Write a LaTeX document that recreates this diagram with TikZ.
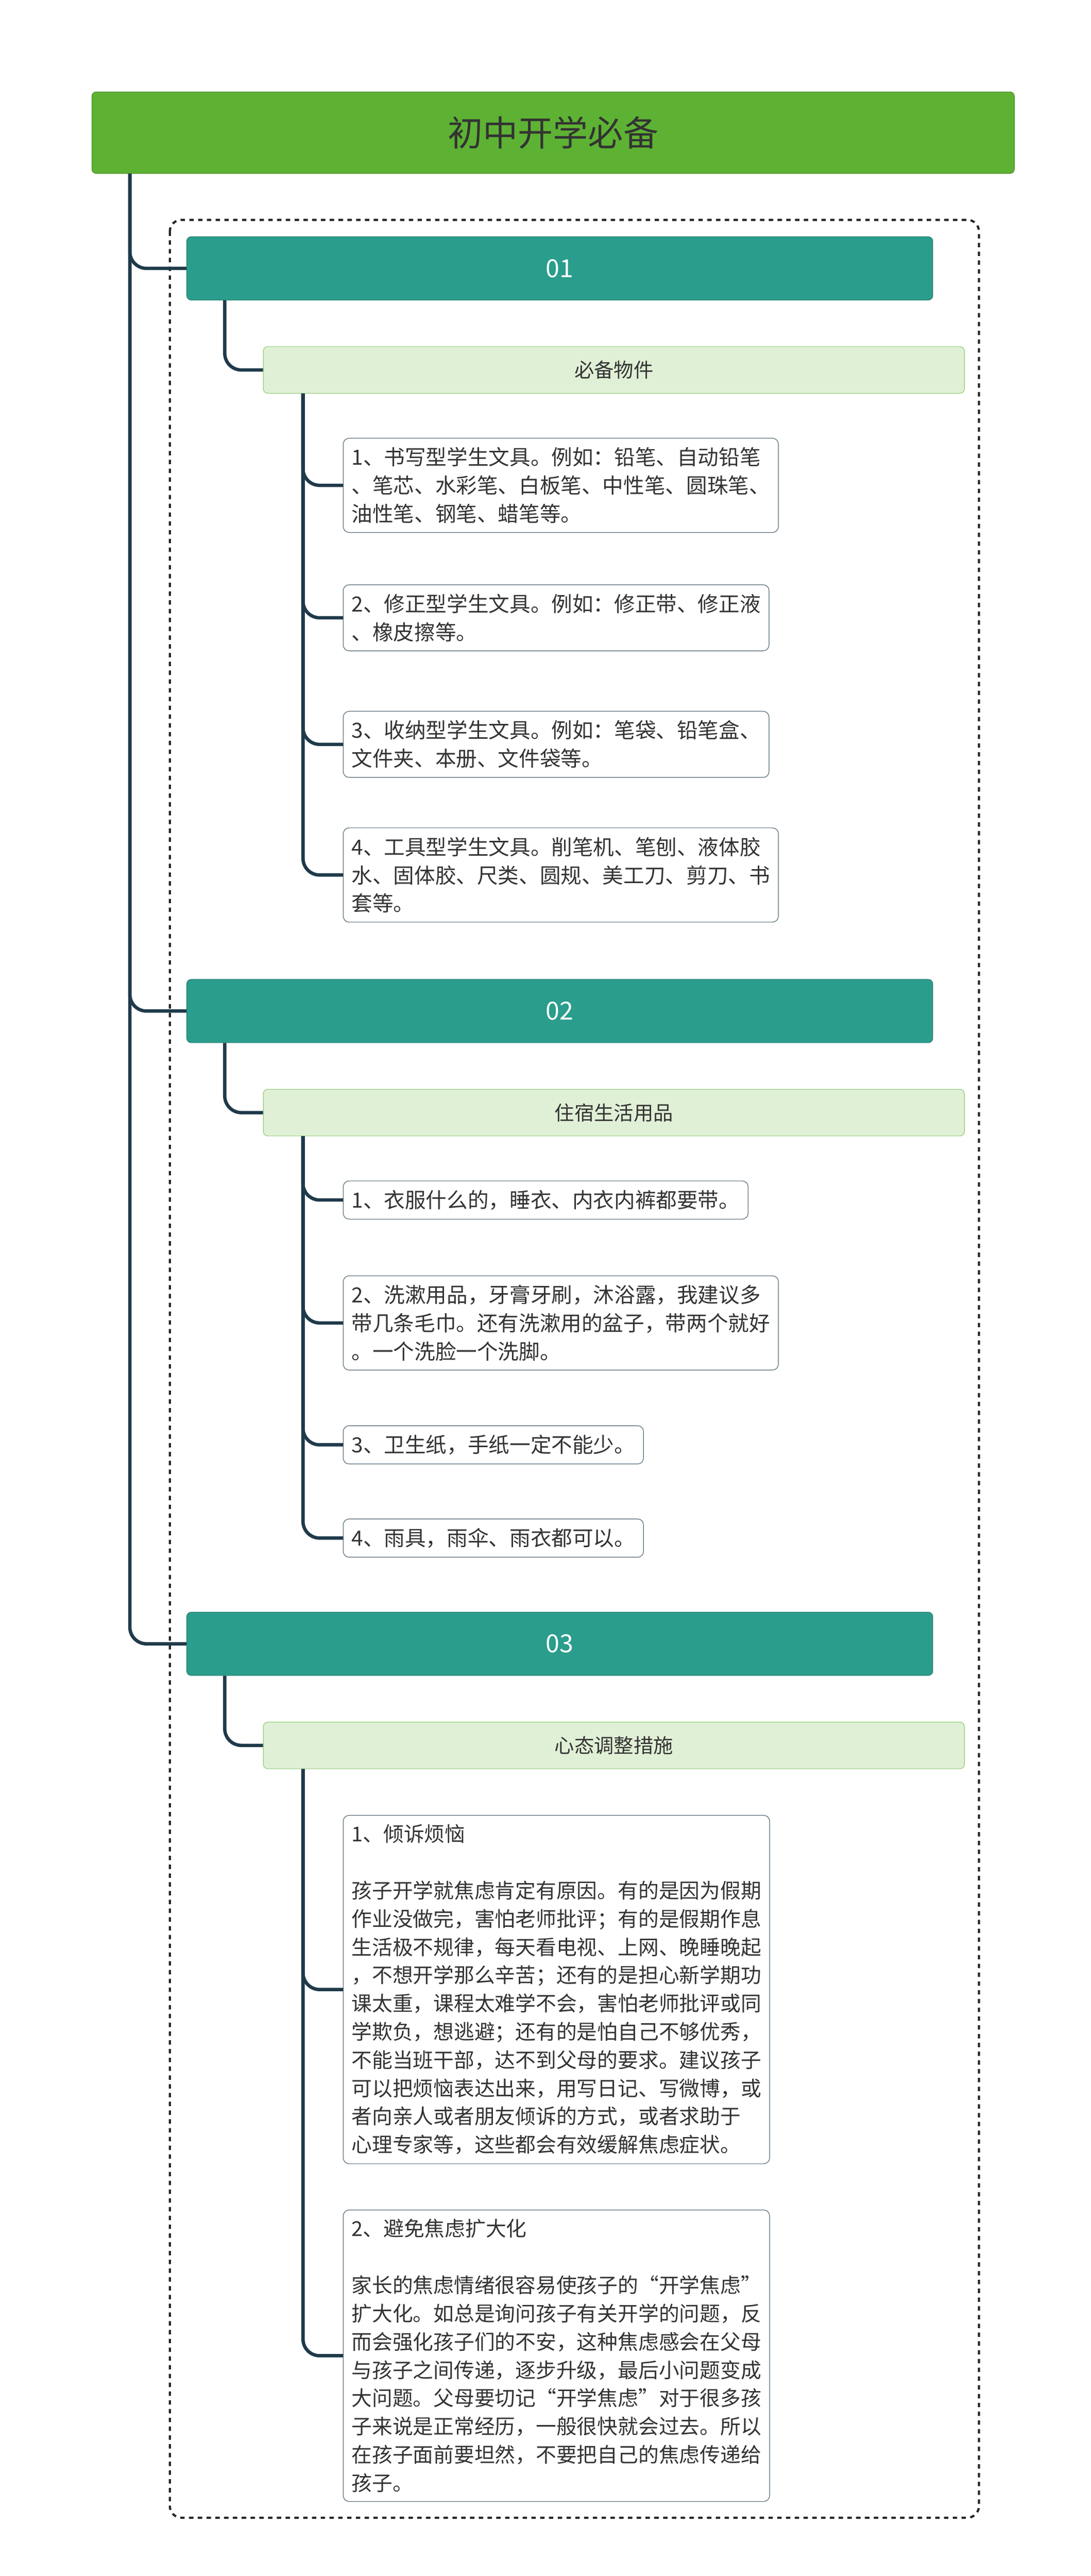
\documentclass[tikz,border=0pt]{standalone}
\usepackage{fontspec}
\setmainfont{Noto Sans CJK SC}
\usetikzlibrary{positioning, calc}
\definecolor{rootgreen}{HTML}{5DB233}
\definecolor{teal}{HTML}{2A9D8C}
\definecolor{headgreen}{HTML}{E0F0D6}
\definecolor{navy}{HTML}{1F3A4A}
\begin{document}
\begin{tikzpicture}[
    x=0.04cm, y=-0.04cm,
    root/.style={rectangle, draw=rootgreen!80!black, fill=rootgreen, rounded corners=3pt, minimum width=22.16cm, minimum height=1.96cm, anchor=north west, font=\fontsize{24}{28}\selectfont, text=black!80},
    sec/.style={rectangle, draw=teal!80!black, fill=teal, rounded corners=3pt, minimum width=17.92cm, minimum height=1.52cm, anchor=north west, font=\fontsize{17}{20}\selectfont, text=white},
    head/.style={rectangle, draw=rootgreen!70, fill=headgreen, rounded corners=3pt, minimum width=16.84cm, minimum height=1.12cm, anchor=north west, font=\fontsize{13.5}{16}\selectfont, text=black!80},
    item/.style={rectangle, draw=navy!80, fill=white, rounded corners=4pt, anchor=north west, align=left, inner xsep=0.2cm, inner ysep=0.22cm, font=\fontsize{14.3}{19.3}\selectfont, text=black!80},
    link/.style={draw=navy, line width=2.3pt, rounded corners=0.4cm}
]
    \useasboundingbox (0,0) rectangle (655,1547);

    %% frame
    \draw [black!85, line width=1.5pt, dashed, rounded corners=8pt] (102,132) rectangle (588,1512);

    \node [root] (root) at (55,55) {初中开学必备};

    %% 01
    \node [sec] (s1) at (112,142) {01};
    \node [head] (h1) at (158,208) {必备物件};
    \node [item] (i11) at (206,263) {1、书写型学生文具。例如：铅笔、自动铅笔\\、笔芯、水彩笔、白板笔、中性笔、圆珠笔、\\油性笔、钢笔、蜡笔等。};
    \node [item] (i12) at (206,351) {2、修正型学生文具。例如：修正带、修正液\\、橡皮擦等。};
    \node [item] (i13) at (206,427) {3、收纳型学生文具。例如：笔袋、铅笔盒、\\文件夹、本册、文件袋等。};
    \node [item] (i14) at (206,497) {4、工具型学生文具。削笔机、笔刨、液体胶\\水、固体胶、尺类、圆规、美工刀、剪刀、书\\套等。};

    %% 02
    \node [sec] (s2) at (112,588) {02};
    \node [head] (h2) at (158,654) {住宿生活用品};
    \node [item] (i21) at (206,709) {1、衣服什么的，睡衣、内衣内裤都要带。};
    \node [item] (i22) at (206,766) {2、洗漱用品，牙膏牙刷，沐浴露，我建议多\\带几条毛巾。还有洗漱用的盆子，带两个就好\\。一个洗脸一个洗脚。};
    \node [item] (i23) at (206,856) {3、卫生纸，手纸一定不能少。};
    \node [item] (i24) at (206,912) {4、雨具，雨伞、雨衣都可以。};

    %% 03
    \node [sec] (s3) at (112,968) {03};
    \node [head] (h3) at (158,1034) {心态调整措施};
    \node [item, font=\fontsize{14}{19.3}\selectfont] (i31) at (206,1090) {1、倾诉烦恼\\[19.3pt]孩子开学就焦虑肯定有原因。有的是因为假期\\作业没做完，害怕老师批评；有的是假期作息\\生活极不规律，每天看电视、上网、晚睡晚起\\，不想开学那么辛苦；还有的是担心新学期功\\课太重，课程太难学不会，害怕老师批评或同\\学欺负，想逃避；还有的是怕自己不够优秀，\\不能当班干部，达不到父母的要求。建议孩子\\可以把烦恼表达出来，用写日记、写微博，或\\者向亲人或者朋友倾诉的方式，或者求助于\\心理专家等，这些都会有效缓解焦虑症状。};
    \node [item, font=\fontsize{14}{19.3}\selectfont] (i32) at (206,1327) {2、避免焦虑扩大化\\[19.3pt]家长的焦虑情绪很容易使孩子的“开学焦虑”\\扩大化。如总是询问孩子有关开学的问题，反\\而会强化孩子们的不安，这种焦虑感会在父母\\与孩子之间传递，逐步升级，最后小问题变成\\大问题。父母要切记“开学焦虑”对于很多孩\\子来说是正常经历，一般很快就会过去。所以\\在孩子面前要坦然，不要把自己的焦虑传递给\\孩子。};

    % Connectors
    \foreach \s in {s1,s2,s3}
        \draw [link] ($(root.south west)+(23,0)$) |- (\s.west);
    \foreach \s/\h in {s1/h1,s2/h2,s3/h3}
        \draw [link] ($(\s.south west)+(23,0)$) |- (\h.west);
    \foreach \h/\i in {h1/i11,h1/i12,h1/i13,h1/i14,h2/i21,h2/i22,h2/i23,h2/i24,h3/i31,h3/i32}
        \draw [link] ($(\h.south west)+(24,0)$) |- (\i.west);
\end{tikzpicture}
\end{document}
